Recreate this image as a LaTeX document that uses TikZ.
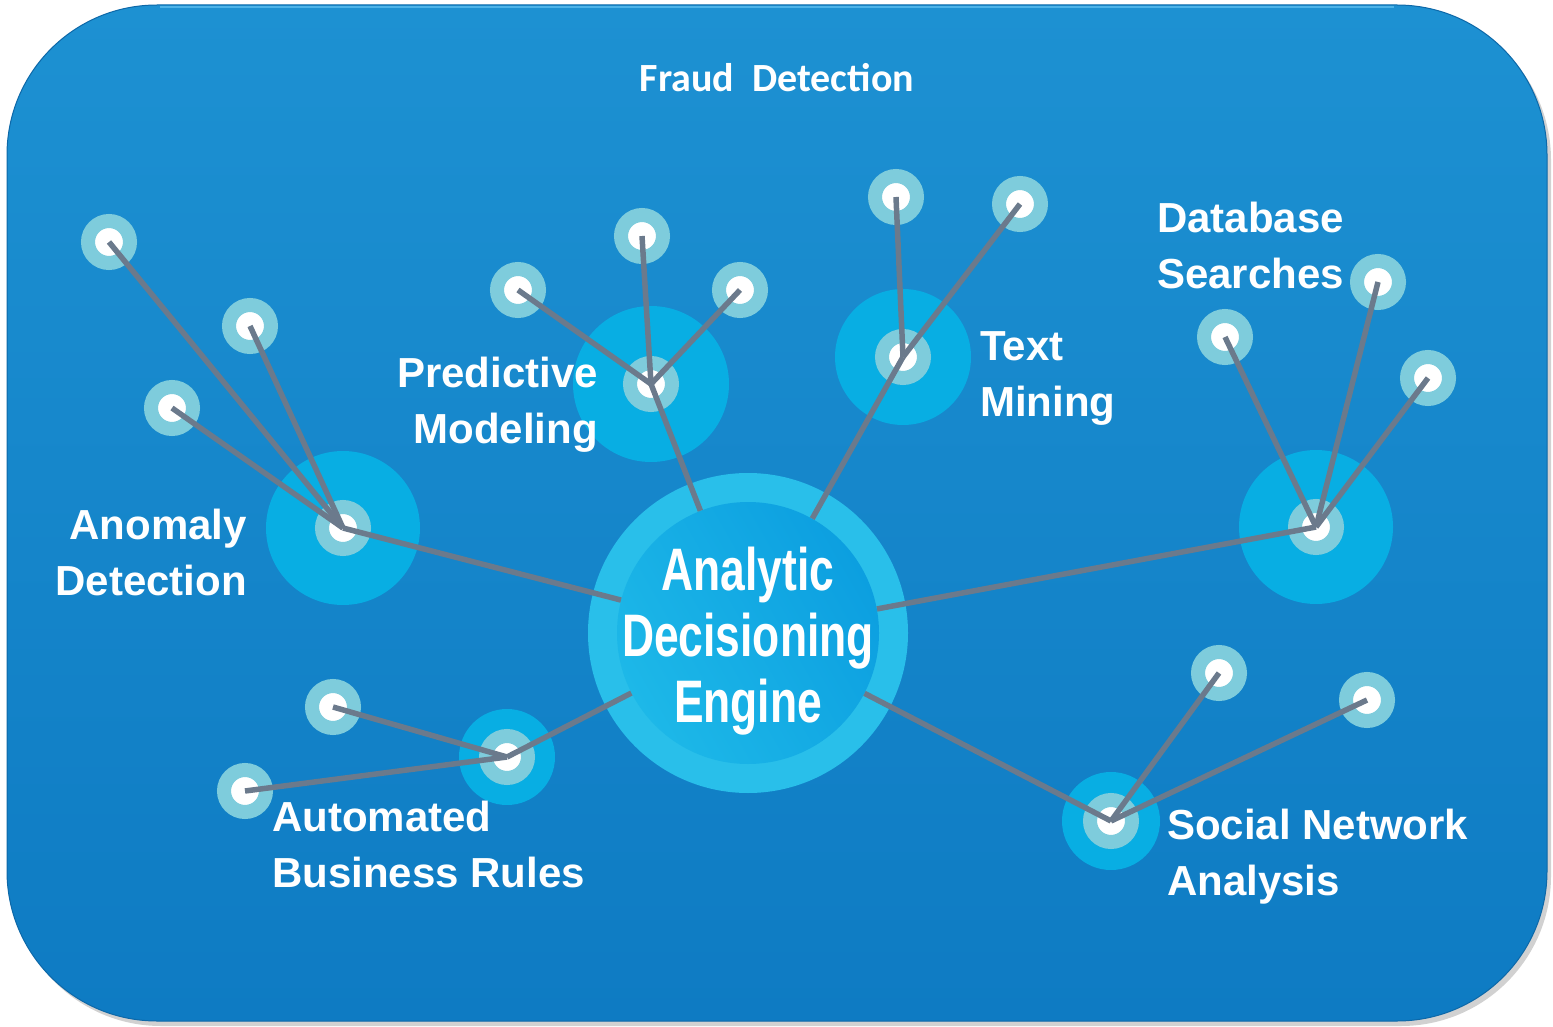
\documentclass[tikz,border=0pt]{standalone}
\usepackage{fontspec}
\setmainfont{Liberation Sans}
\newfontfamily\narrowfont{Liberation Sans}[FakeStretch=0.74]
\newfontfamily\calibrifont{Carlito}
\definecolor{bgtop}{HTML}{1D91D2}
\definecolor{bgbot}{HTML}{0E7BC3}
\definecolor{bgedge}{HTML}{0D68A8}
\definecolor{bghl}{HTML}{4DB3E8}
\definecolor{hubcyan}{HTML}{08AEE3}
\definecolor{ringteal}{HTML}{7ECCDC}
\definecolor{linegray}{HTML}{6B7A8C}
\definecolor{coreouter}{HTML}{29BFEA}
\definecolor{corein}{HTML}{1DB8E8}
\definecolor{coreblue}{HTML}{0C9FE0}
\tikzset{
  halo/.style={circle, fill=hubcyan, inner sep=0pt, minimum size=#1},
  dot/.style={circle, fill=white, draw=ringteal, line width=14pt, inner sep=0pt, minimum size=42pt},
  conn/.style={draw=linegray, line width=5.5pt},
  lbl/.style={text=white, inner sep=0pt, font=\bfseries\fontsize{42}{56}\selectfont},
}
\begin{document}
\begin{tikzpicture}[x=1pt,y=-1pt]
\useasboundingbox (0,0) rectangle (1553,1027);
% background panel
\fill[black!18, rounded corners=150pt] (11,10) rectangle (1551,1026);
\shade[top color=bgtop, bottom color=bgbot, rounded corners=150pt] (7,5) rectangle (1547,1021);
\draw[bgedge, line width=1pt, rounded corners=150pt] (7,5) rectangle (1547,1021);
\draw[bghl, line width=2pt] (160,7) -- (1394,7);
\node[text=white, inner sep=0pt, anchor=base, font=\calibrifont\bfseries\fontsize{40}{48}\selectfont] (title) at (777,92) {Fraud\ \ Detection};

% central engine
\node[circle, fill=coreouter, inner sep=0pt, minimum size=320pt] (engine) at (748,633) {};
\node[circle, inner sep=0pt, minimum size=262pt, left color=corein, right color=coreblue, shading angle=120] (core) at (748,633) {};

% hub halos
\node[halo=154pt] (anomH) at (343,528) {};
\node[halo=156pt] (predH) at (651,384) {};
\node[halo=136pt] (textH) at (903,357) {};
\node[halo=154pt] (dbH) at (1316,527) {};
\node[halo=96pt]  (autoH) at (507,757) {};
\node[halo=98pt]  (socH) at (1111,821) {};

% hub dots
\node[dot] (anom) at (343,528) {};
\node[dot] (pred) at (651,384) {};
\node[dot] (text) at (903,357) {};
\node[dot] (db) at (1316,527) {};
\node[dot] (auto) at (507,757) {};
\node[dot] (soc) at (1111,821) {};

% leaf dots
\node[dot] (a1) at (109,242) {};
\node[dot] (a2) at (250,326) {};
\node[dot] (a3) at (172,408) {};
\node[dot] (p1) at (518,290) {};
\node[dot] (p2) at (642,236) {};
\node[dot] (p3) at (740,290) {};
\node[dot] (t1) at (896,197) {};
\node[dot] (t2) at (1020,204) {};
\node[dot] (d1) at (1225,337) {};
\node[dot] (d2) at (1378,282) {};
\node[dot] (d3) at (1428,378) {};
\node[dot] (b1) at (333,707) {};
\node[dot] (b2) at (245,791) {};
\node[dot] (s1) at (1219,673) {};
\node[dot] (s2) at (1367,700) {};

% connectors
\foreach \l/\h in {a1/anom,a2/anom,a3/anom,p1/pred,p2/pred,p3/pred,t1/text,t2/text,d1/db,d2/db,d3/db,b1/auto,b2/auto,s1/soc,s2/soc}
  \draw[conn] (\l.center) -- (\h.center);
\foreach \h in {anom,pred,text,db,auto,soc}
  \draw[conn] (\h.center) -- (core);

% engine text
\node[text=white, inner sep=0pt, anchor=north, align=center, font=\narrowfont\bfseries\fontsize{60}{66}\selectfont] (enginelbl) at (748,547) {Analytic\\Decisioning\\Engine};

% labels
\node[lbl, anchor=north east, align=right] (anomL) at (247,509) {Anomaly\\Detection};
\node[lbl, anchor=north east, align=right] (predL) at (598,357) {Predictive\\Modeling};
\node[lbl, anchor=north west, align=left] (textL) at (980,331) {Text\\Mining};
\node[lbl, anchor=north west, align=left] (dbL) at (1157,202) {Database\\Searches};
\node[lbl, anchor=north west, align=left] (autoL) at (272,801) {Automated\\Business Rules};
\node[lbl, anchor=north west, align=left] (socL) at (1167,809) {Social Network\\Analysis};
\end{tikzpicture}
\end{document}
